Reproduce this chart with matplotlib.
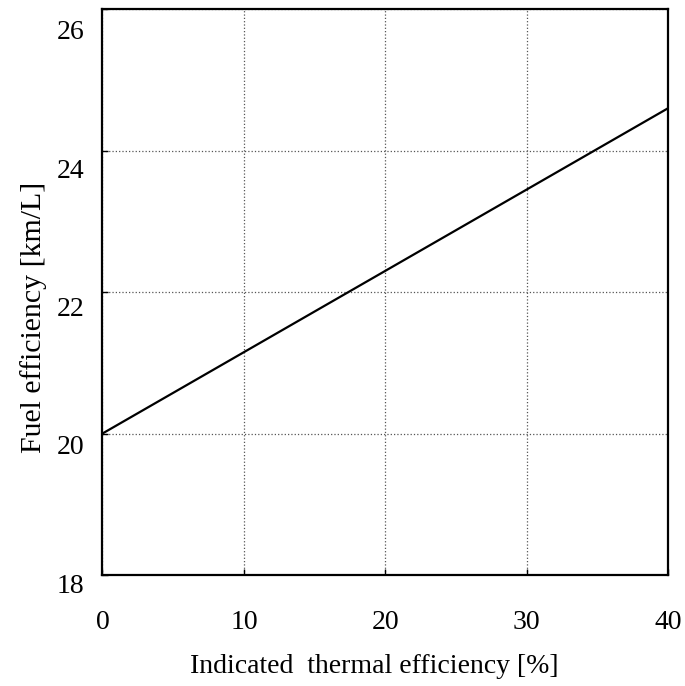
import matplotlib
matplotlib.use("Agg")
import matplotlib.pyplot as plt
import matplotlib.transforms as mtransforms

# data
thermal_eff = [0, 40]
fuel_eff = [20.0, 24.6]
x_ticks = [0, 10, 20, 30, 40]
y_ticks = [18, 20, 22, 24, 26]

plt.rcParams['font.family'] = ['Liberation Serif', 'DejaVu Serif']

fig = plt.figure(figsize=(6.85, 6.86), dpi=100)
ax = fig.add_axes([0.1496, 0.1618, 0.826, 0.825])

ax.plot(thermal_eff, fuel_eff, color='black', lw=1.6)

ax.set_xlim(0, 40)
ax.set_ylim(18, 26)
ax.set_xticks(x_ticks)
ax.set_yticks(y_ticks)
ax.tick_params(direction='in', length=4, width=1, labelsize=20)
ax.tick_params(axis='x', pad=25)
ax.tick_params(axis='y', pad=13)

# y labels drift below their ticks in the reference, more so at the top
for v, lab in zip(y_ticks, ax.get_yticklabels()):
    px = 8 + 1.6 * (v - 18)
    off = mtransforms.ScaledTranslation(0, -px / 100, fig.dpi_scale_trans)
    lab.set_transform(lab.get_transform() + off)

ax.grid(True, linestyle=':', color='#555555', lw=0.9)
for s in ax.spines.values():
    s.set_linewidth(1.6)

ax.set_xlabel('Indicated  thermal efficiency [%]', fontsize=20, labelpad=14)
ax.set_ylabel('Fuel efficiency [km/L]', fontsize=21.5, labelpad=7)
ax.xaxis.label.set_x(0.48)
ax.yaxis.label.set_y(0.456)

fig.savefig('out.png', dpi=100)
